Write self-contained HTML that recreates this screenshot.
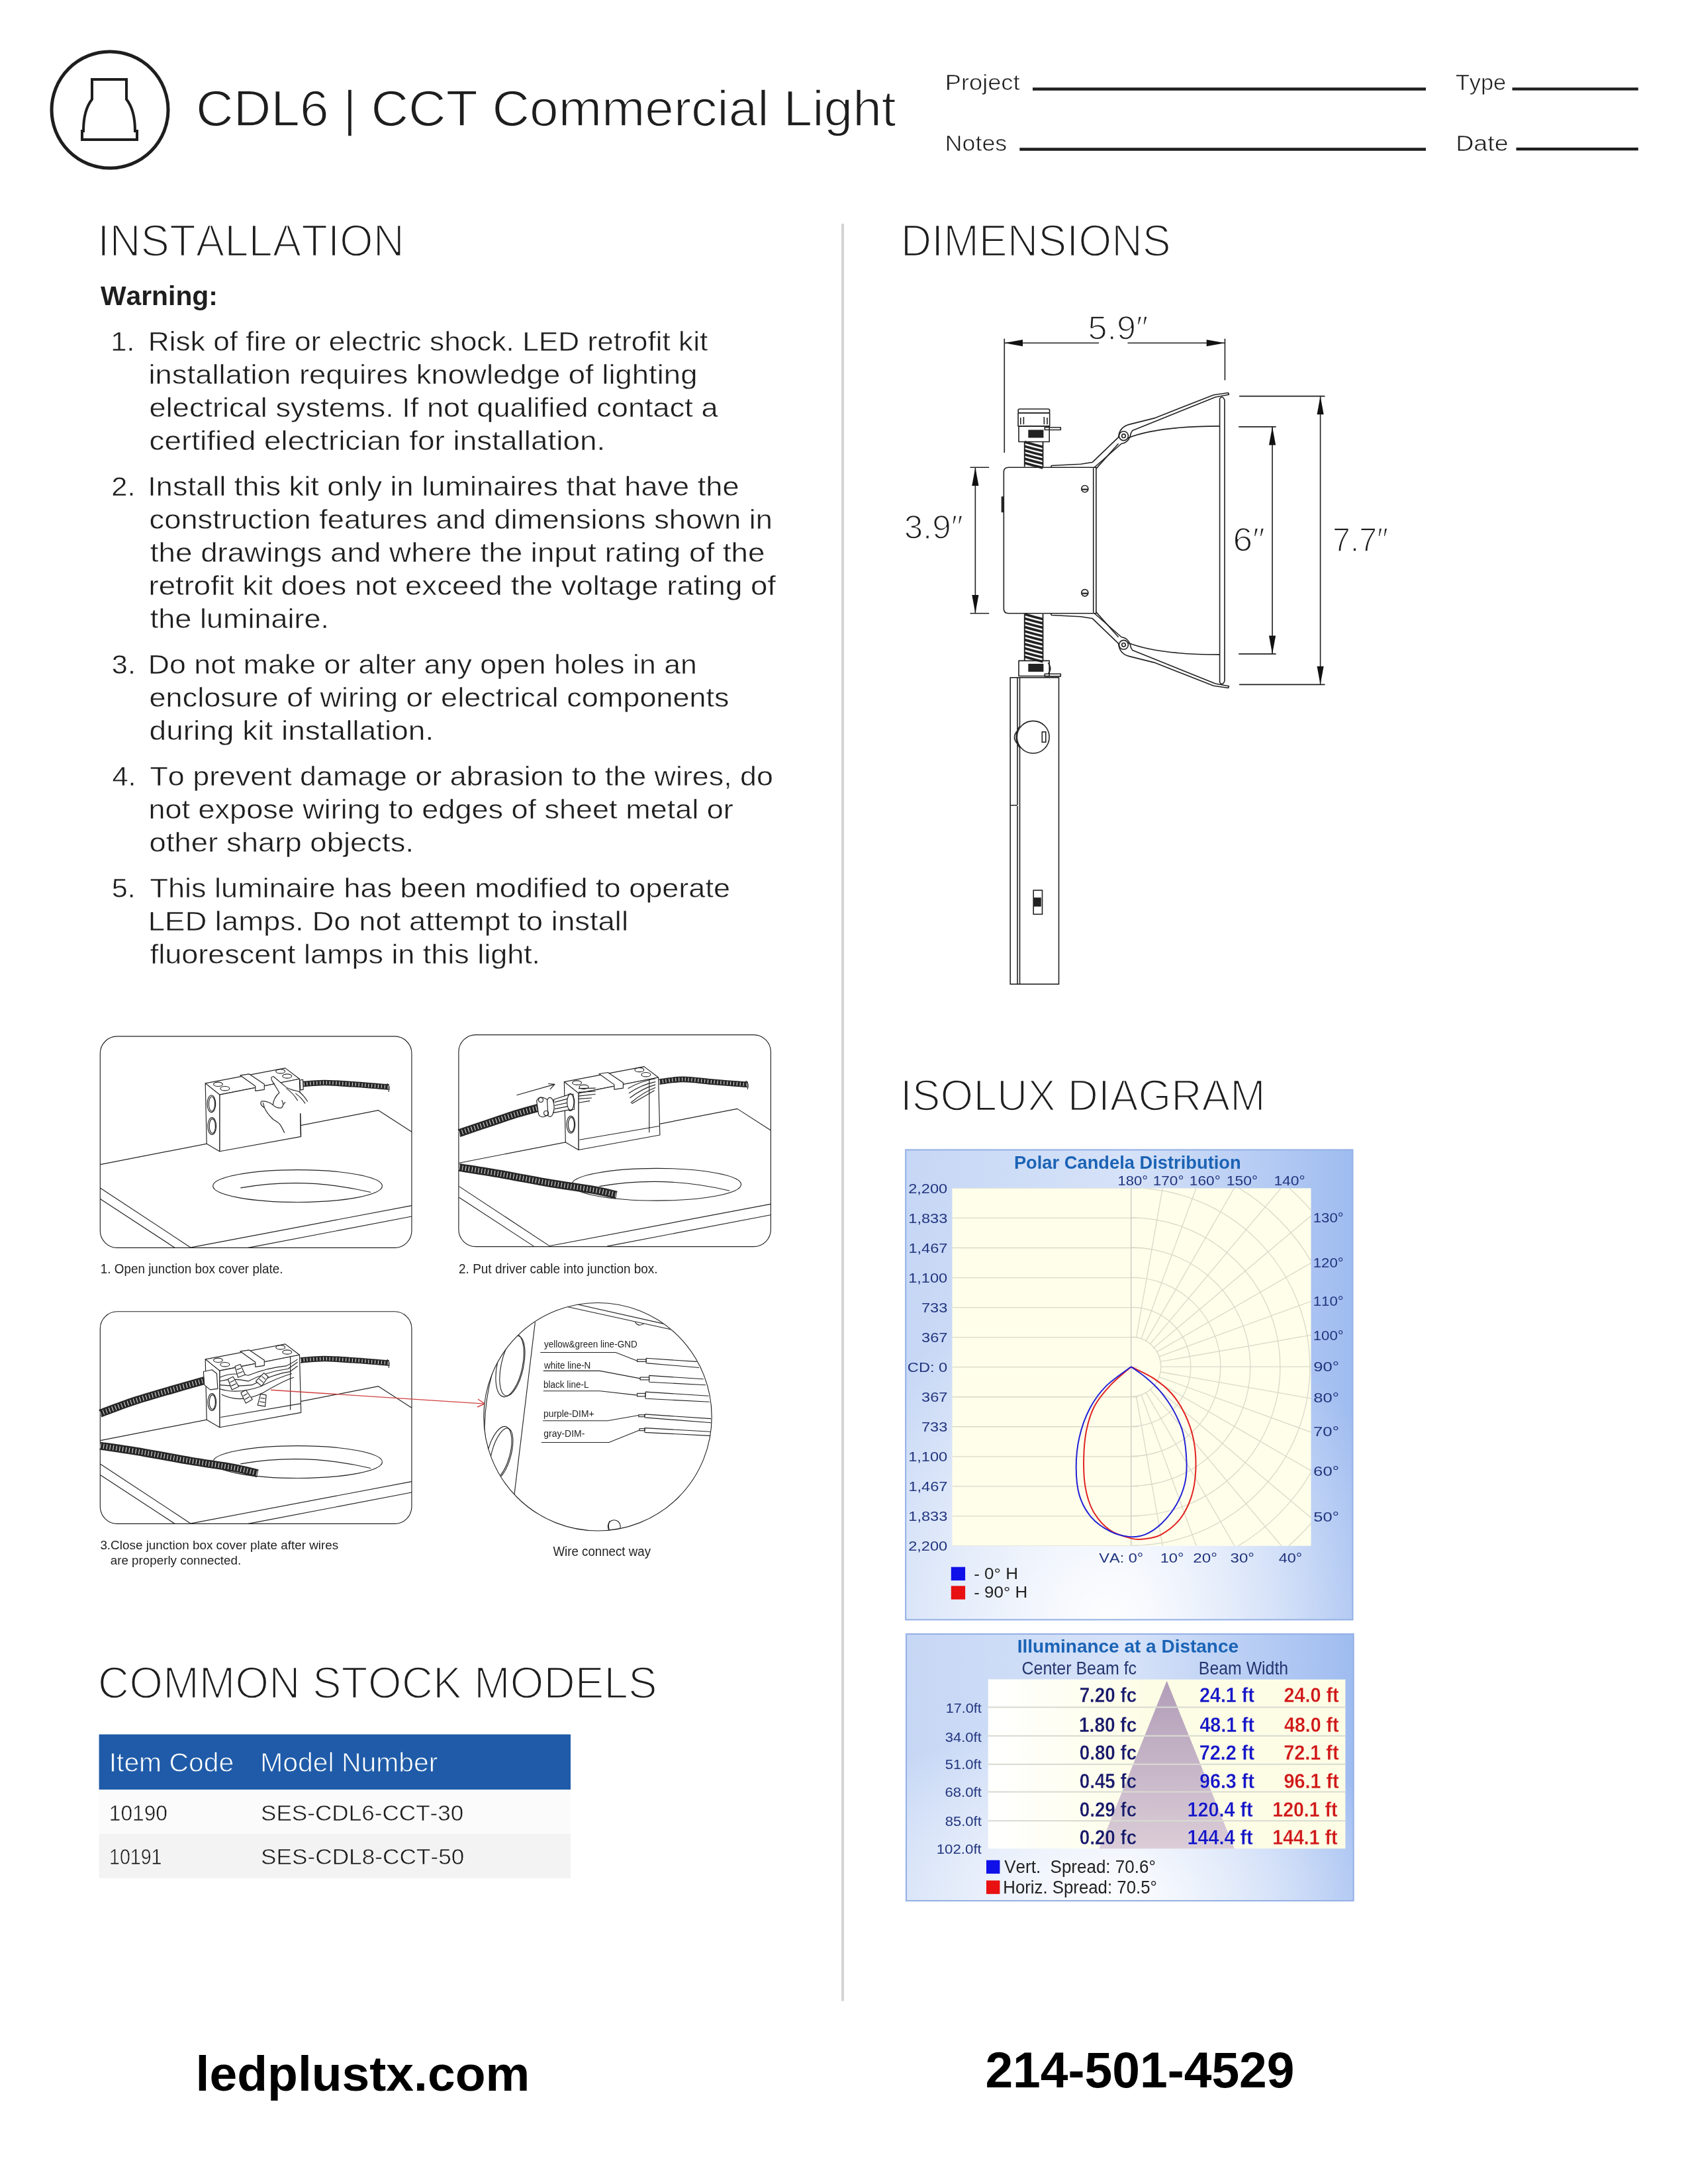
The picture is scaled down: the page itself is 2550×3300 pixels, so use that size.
<!DOCTYPE html><html><head><meta charset="utf-8"><style>html,body{margin:0;padding:0;background:#fff;width:2550px;height:3300px;overflow:hidden}svg{display:block;will-change:transform}text{font-family:"Liberation Sans",sans-serif;font-kerning:none;white-space:pre}</style></head><body>
<svg width="2550" height="3300" viewBox="0 0 2550 3300">
<rect width="2550" height="3300" fill="#fff"/>
<circle cx="166" cy="166" r="88" fill="none" stroke="#1e1e1e" stroke-width="5"/>
<path d="M139,120 L191,120 L191,150 C199,160 204,175 204,198 L207,198 L207,211 L124,211 L124,198 L126,198 C126,175 131,160 139,150 Z" fill="none" stroke="#1e1e1e" stroke-width="4"/>
<text x="296.02" y="190.00" font-size="75.58" fill="#1e1e1e" stroke="#fff" stroke-width="1.60" textLength="1057.56" lengthAdjust="spacingAndGlyphs">CDL6 | CCT Commercial Light</text>
<text x="1427.73" y="135.60" font-size="32.70" fill="#1e1e1e" stroke="#fff" stroke-width="0.60" textLength="112.84" lengthAdjust="spacingAndGlyphs">Project</text>
<text x="1427.76" y="228.00" font-size="33.43" fill="#1e1e1e" stroke="#fff" stroke-width="0.60" textLength="93.53" lengthAdjust="spacingAndGlyphs">Notes</text>
<text x="2198.93" y="136.00" font-size="33.43" fill="#1e1e1e" stroke="#fff" stroke-width="0.60" textLength="76.19" lengthAdjust="spacingAndGlyphs">Type</text>
<text x="2199.22" y="228.00" font-size="33.43" fill="#1e1e1e" stroke="#fff" stroke-width="0.60" textLength="79.35" lengthAdjust="spacingAndGlyphs">Date</text>
<rect x="1560" y="132.3" width="594" height="4.5" fill="#1e1e1e"/>
<rect x="1540.3" y="223.3" width="613.7" height="4.5" fill="#1e1e1e"/>
<rect x="2284.5" y="132.3" width="190.3" height="4.3" fill="#1e1e1e"/>
<rect x="2290.5" y="223" width="184.3" height="4.4" fill="#1e1e1e"/>
<rect x="1271" y="338" width="4" height="2685.5" fill="#d3d3d3"/>
<text x="147.28" y="387.20" font-size="68.32" fill="#1e1e1e" stroke="#fff" stroke-width="2.40" textLength="463.63" lengthAdjust="spacingAndGlyphs">INSTALLATION</text>
<text x="1360.71" y="386.60" font-size="68.32" fill="#1e1e1e" stroke="#fff" stroke-width="2.40" textLength="408.14" lengthAdjust="spacingAndGlyphs">DIMENSIONS</text>
<text x="1360.09" y="1678.30" font-size="67.59" fill="#1e1e1e" stroke="#fff" stroke-width="2.40" textLength="551.46" lengthAdjust="spacingAndGlyphs">ISOLUX DIAGRAM</text>
<text x="147.87" y="2566.20" font-size="68.32" fill="#1e1e1e" stroke="#fff" stroke-width="2.40" textLength="844.84" lengthAdjust="spacingAndGlyphs">COMMON STOCK MODELS</text>
<text x="151.96" y="460.80" font-size="41.28" font-weight="bold" fill="#1e1e1e" textLength="176.97" lengthAdjust="spacingAndGlyphs">Warning:</text>
<text x="167.20" y="530.00" font-size="41.28" fill="#1e1e1e" stroke="#fff" stroke-width="0.50" textLength="36.15" lengthAdjust="spacingAndGlyphs">1.</text>
<text x="223.87" y="530.00" font-size="41.28" fill="#1e1e1e" stroke="#fff" stroke-width="0.50" textLength="845.45" lengthAdjust="spacingAndGlyphs">Risk of fire or electric shock. LED retrofit kit</text>
<text x="224.46" y="580.00" font-size="41.28" fill="#1e1e1e" stroke="#fff" stroke-width="0.50" textLength="828.97" lengthAdjust="spacingAndGlyphs">installation requires knowledge of lighting</text>
<text x="225.58" y="630.00" font-size="41.28" fill="#1e1e1e" stroke="#fff" stroke-width="0.50" textLength="859.02" lengthAdjust="spacingAndGlyphs">electrical systems. If not qualified contact a</text>
<text x="225.55" y="680.00" font-size="41.28" fill="#1e1e1e" stroke="#fff" stroke-width="0.50" textLength="688.64" lengthAdjust="spacingAndGlyphs">certified electrician for installation.</text>
<text x="168.32" y="749.00" font-size="41.28" fill="#1e1e1e" stroke="#fff" stroke-width="0.50" textLength="36.15" lengthAdjust="spacingAndGlyphs">2.</text>
<text x="223.33" y="749.00" font-size="41.28" fill="#1e1e1e" stroke="#fff" stroke-width="0.50" textLength="893.17" lengthAdjust="spacingAndGlyphs">Install this kit only in luminaires that have the</text>
<text x="225.58" y="799.00" font-size="41.28" fill="#1e1e1e" stroke="#fff" stroke-width="0.50" textLength="941.36" lengthAdjust="spacingAndGlyphs">construction features and dimensions shown in</text>
<text x="226.81" y="849.00" font-size="41.28" fill="#1e1e1e" stroke="#fff" stroke-width="0.50" textLength="928.73" lengthAdjust="spacingAndGlyphs">the drawings and where the input rating of the</text>
<text x="224.47" y="899.00" font-size="41.28" fill="#1e1e1e" stroke="#fff" stroke-width="0.50" textLength="947.46" lengthAdjust="spacingAndGlyphs">retrofit kit does not exceed the voltage rating of</text>
<text x="226.82" y="949.00" font-size="41.28" fill="#1e1e1e" stroke="#fff" stroke-width="0.50" textLength="270.29" lengthAdjust="spacingAndGlyphs">the luminaire.</text>
<text x="168.85" y="1018.00" font-size="41.28" fill="#1e1e1e" stroke="#fff" stroke-width="0.50" textLength="36.15" lengthAdjust="spacingAndGlyphs">3.</text>
<text x="223.84" y="1018.00" font-size="41.28" fill="#1e1e1e" stroke="#fff" stroke-width="0.50" textLength="829.06" lengthAdjust="spacingAndGlyphs">Do not make or alter any open holes in an</text>
<text x="225.59" y="1068.00" font-size="41.28" fill="#1e1e1e" stroke="#fff" stroke-width="0.50" textLength="876.04" lengthAdjust="spacingAndGlyphs">enclosure of wiring or electrical components</text>
<text x="225.57" y="1118.00" font-size="41.28" fill="#1e1e1e" stroke="#fff" stroke-width="0.50" textLength="429.63" lengthAdjust="spacingAndGlyphs">during kit installation.</text>
<text x="169.51" y="1187.00" font-size="41.28" fill="#1e1e1e" stroke="#fff" stroke-width="0.50" textLength="36.15" lengthAdjust="spacingAndGlyphs">4.</text>
<text x="226.49" y="1187.00" font-size="41.28" fill="#1e1e1e" stroke="#fff" stroke-width="0.50" textLength="941.39" lengthAdjust="spacingAndGlyphs">To prevent damage or abrasion to the wires, do</text>
<text x="224.51" y="1237.00" font-size="41.28" fill="#1e1e1e" stroke="#fff" stroke-width="0.50" textLength="883.24" lengthAdjust="spacingAndGlyphs">not expose wiring to edges of sheet metal or</text>
<text x="225.59" y="1287.00" font-size="41.28" fill="#1e1e1e" stroke="#fff" stroke-width="0.50" textLength="399.56" lengthAdjust="spacingAndGlyphs">other sharp objects.</text>
<text x="168.76" y="1356.00" font-size="41.28" fill="#1e1e1e" stroke="#fff" stroke-width="0.50" textLength="36.15" lengthAdjust="spacingAndGlyphs">5.</text>
<text x="226.49" y="1356.00" font-size="41.28" fill="#1e1e1e" stroke="#fff" stroke-width="0.50" textLength="876.51" lengthAdjust="spacingAndGlyphs">This luminaire has been modified to operate</text>
<text x="223.77" y="1406.00" font-size="41.28" fill="#1e1e1e" stroke="#fff" stroke-width="0.50" textLength="725.27" lengthAdjust="spacingAndGlyphs">LED lamps. Do not attempt to install</text>
<text x="226.86" y="1456.00" font-size="41.28" fill="#1e1e1e" stroke="#fff" stroke-width="0.50" textLength="589.24" lengthAdjust="spacingAndGlyphs">fluorescent lamps in this light.</text>
<rect x="149.6" y="2620.6" width="712.4" height="83.4" fill="#1f5ba8"/>
<rect x="149.6" y="2704" width="712.4" height="67" fill="#fbfbfb"/>
<rect x="149.6" y="2771" width="712.4" height="67" fill="#f3f3f3"/>
<text x="164.73" y="2676.70" font-size="41.43" fill="#fff" textLength="188.38" lengthAdjust="spacingAndGlyphs" stroke="#1f5ba8" stroke-width="0.9">Item Code</text>
<text x="393.14" y="2676.70" font-size="41.43" fill="#fff" textLength="268.34" lengthAdjust="spacingAndGlyphs" stroke="#1f5ba8" stroke-width="0.9">Model Number</text>
<text x="164.78" y="2751.20" font-size="33.72" fill="#1e1e1e" stroke="#fff" stroke-width="0.50" textLength="88.26" lengthAdjust="spacingAndGlyphs">10190</text>
<text x="394.01" y="2751.20" font-size="33.72" fill="#1e1e1e" stroke="#fff" stroke-width="0.50" textLength="306.37" lengthAdjust="spacingAndGlyphs">SES-CDL6-CCT-30</text>
<text x="165.03" y="2817.00" font-size="33.72" fill="#1e1e1e" stroke="#fff" stroke-width="0.50" textLength="79.37" lengthAdjust="spacingAndGlyphs">10191</text>
<text x="394.00" y="2817.00" font-size="33.72" fill="#1e1e1e" stroke="#fff" stroke-width="0.50" textLength="307.38" lengthAdjust="spacingAndGlyphs">SES-CDL8-CCT-50</text>
<text x="295.56" y="3159.30" font-size="74.10" font-weight="bold" fill="#000" textLength="504.80" lengthAdjust="spacingAndGlyphs">ledplustx.com</text>
<text x="1488.40" y="3153.50" font-size="76.60" font-weight="bold" fill="#000" textLength="467.18" lengthAdjust="spacingAndGlyphs">214-501-4529</text>
<defs><linearGradient id="pbg" x1="0" y1="0" x2="1" y2="0"><stop offset="0" stop-color="#c6d7f5"/><stop offset="0.5" stop-color="#d6e2f8"/><stop offset="1" stop-color="#9fbcf0"/></linearGradient><radialGradient id="pwh" cx="0.45" cy="1" r="0.7"><stop offset="0" stop-color="#fff" stop-opacity="0.95"/><stop offset="0.6" stop-color="#fff" stop-opacity="0.4"/><stop offset="1" stop-color="#fff" stop-opacity="0"/></radialGradient><clipPath id="pclip"><rect x="192" y="160" width="1326" height="1322"/></clipPath><linearGradient id="tri" x1="0" y1="0" x2="0" y2="1"><stop offset="0" stop-color="#ad98b6"/><stop offset="1" stop-color="#d9cad6"/></linearGradient><linearGradient id="twh" x1="0" y1="0" x2="1" y2="0"><stop offset="0" stop-color="#fff" stop-opacity="1"/><stop offset="0.45" stop-color="#fff" stop-opacity="0"/></linearGradient></defs>
<g transform="translate(1360,1730) scale(0.408764)">
<rect x="20" y="18" width="1652" height="1737" fill="url(#pbg)"/>
<rect x="20" y="18" width="1652" height="1737" fill="url(#pwh)"/>
<rect x="20" y="18" width="1652" height="1737" fill="none" stroke="#94b0e6" stroke-width="5"/>
<rect x="192" y="160" width="1326" height="1322" fill="#fffeea"/>
<g clip-path="url(#pclip)" stroke="#d9d9cc" stroke-width="3.2" fill="none"><line x1="192" y1="160.0" x2="880" y2="160.0"/><line x1="192" y1="270.2" x2="880" y2="270.2"/><line x1="192" y1="380.4" x2="880" y2="380.4"/><line x1="192" y1="490.6" x2="880" y2="490.6"/><line x1="192" y1="600.8" x2="880" y2="600.8"/><line x1="192" y1="711.0" x2="880" y2="711.0"/><line x1="192" y1="821.2" x2="880" y2="821.2"/><line x1="192" y1="931.4" x2="880" y2="931.4"/><line x1="192" y1="1041.6" x2="880" y2="1041.6"/><line x1="192" y1="1151.8" x2="880" y2="1151.8"/><line x1="192" y1="1262.0" x2="880" y2="1262.0"/><line x1="192" y1="1372.2" x2="880" y2="1372.2"/><line x1="192" y1="1482.4" x2="880" y2="1482.4"/><line x1="853" y1="160" x2="853" y2="1482" stroke="#c8c8c0"/><path d="M853.0,709.8 A110.2,110.2 0 0 1 853.0,930.2"/><path d="M853.0,599.6 A220.4,220.4 0 0 1 853.0,1040.4"/><path d="M853.0,489.4 A330.6,330.6 0 0 1 853.0,1150.6"/><path d="M853.0,379.2 A440.8,440.8 0 0 1 853.0,1260.8"/><path d="M853.0,269.0 A551.0,551.0 0 0 1 853.0,1371.0"/><path d="M853.0,158.8 A661.2,661.2 0 0 1 853.0,1481.2"/><path d="M853.0,48.6 A771.4,771.4 0 0 1 853.0,1591.4"/><path d="M853.0,-61.6 A881.6,881.6 0 0 1 853.0,1701.6"/><path d="M853.0,-171.8 A991.8,991.8 0 0 1 853.0,1811.8"/><line x1="872.1" y1="928.5" x2="1200.3" y2="2789.6"/><line x1="890.7" y1="923.6" x2="1537.0" y2="2699.4"/><line x1="908.1" y1="915.4" x2="1853.0" y2="2552.1"/><line x1="923.8" y1="904.4" x2="2138.6" y2="2352.1"/><line x1="937.4" y1="890.8" x2="2385.1" y2="2105.6"/><line x1="948.4" y1="875.1" x2="2585.1" y2="1820.0"/><line x1="956.6" y1="857.7" x2="2732.4" y2="1504.0"/><line x1="961.5" y1="839.1" x2="2822.6" y2="1167.3"/><line x1="963.2" y1="820.0" x2="2853.0" y2="820.0"/><line x1="961.5" y1="800.9" x2="2822.6" y2="472.7"/><line x1="956.6" y1="782.3" x2="2732.4" y2="136.0"/><line x1="948.4" y1="764.9" x2="2585.1" y2="-180.0"/><line x1="937.4" y1="749.2" x2="2385.1" y2="-465.6"/><line x1="923.8" y1="735.6" x2="2138.6" y2="-712.1"/><line x1="908.1" y1="724.6" x2="1853.0" y2="-912.1"/><line x1="890.7" y1="716.4" x2="1537.0" y2="-1059.4"/><line x1="872.1" y1="711.5" x2="1200.3" y2="-1149.6"/></g>
<path d="M853.0,820.0 C840.0,831.7 797.5,865.8 775.0,890.0 C752.5,914.2 732.5,937.5 718.0,965.0 C703.5,992.5 694.7,1022.5 688.0,1055.0 C681.3,1087.5 678.7,1125.0 678.0,1160.0 C677.3,1195.0 678.3,1233.0 684.0,1265.0 C689.7,1297.0 697.3,1325.8 712.0,1352.0 C726.7,1378.2 748.7,1405.0 772.0,1422.0 C795.3,1439.0 829.8,1448.3 852.0,1454.0 C874.2,1459.7 886.2,1458.3 905.0,1456.0 C923.8,1453.7 943.8,1451.8 965.0,1440.0 C986.2,1428.2 1013.5,1408.3 1032.0,1385.0 C1050.5,1361.7 1066.0,1330.8 1076.0,1300.0 C1086.0,1269.2 1090.7,1235.0 1092.0,1200.0 C1093.3,1165.0 1090.7,1124.2 1084.0,1090.0 C1077.3,1055.8 1065.7,1023.7 1052.0,995.0 C1038.3,966.3 1021.5,940.2 1002.0,918.0 C982.5,895.8 959.8,878.3 935.0,862.0 C910.2,845.7 866.7,827.0 853.0,820.0" fill="none" stroke="#e02020" stroke-width="4.8" stroke-linejoin="miter"/>
<path d="M853.0,820.0 C837.5,832.0 785.5,866.2 760.0,892.0 C734.5,917.8 716.3,943.7 700.0,975.0 C683.7,1006.3 670.3,1044.2 662.0,1080.0 C653.7,1115.8 650.0,1154.2 650.0,1190.0 C650.0,1225.8 652.8,1264.2 662.0,1295.0 C671.2,1325.8 686.2,1352.8 705.0,1375.0 C723.8,1397.2 751.7,1415.8 775.0,1428.0 C798.3,1440.2 823.3,1446.0 845.0,1448.0 C866.7,1450.0 885.0,1448.0 905.0,1440.0 C925.0,1432.0 945.8,1418.3 965.0,1400.0 C984.2,1381.7 1005.5,1355.0 1020.0,1330.0 C1034.5,1305.0 1045.7,1276.7 1052.0,1250.0 C1058.3,1223.3 1059.2,1200.8 1058.0,1170.0 C1056.8,1139.2 1053.0,1096.3 1045.0,1065.0 C1037.0,1033.7 1023.8,1007.5 1010.0,982.0 C996.2,956.5 979.0,932.3 962.0,912.0 C945.0,891.7 926.2,875.3 908.0,860.0 C889.8,844.7 862.2,826.7 853.0,820.0" fill="none" stroke="#2020d8" stroke-width="4.8" stroke-linejoin="miter"/>
</g>
<text x="1531.90" y="1765.97" font-size="27.00" font-weight="bold" fill="#1b63b5" textLength="342.79" lengthAdjust="spacingAndGlyphs">Polar Candela Distribution</text>
<text x="1372.16" y="1802.60" font-size="21.08" fill="#22357e" textLength="59.07" lengthAdjust="spacingAndGlyphs">2,200</text>
<text x="1372.28" y="1847.65" font-size="21.08" fill="#22357e" textLength="59.07" lengthAdjust="spacingAndGlyphs">1,833</text>
<text x="1372.43" y="1892.69" font-size="21.08" fill="#22357e" textLength="59.07" lengthAdjust="spacingAndGlyphs">1,467</text>
<text x="1372.16" y="1937.74" font-size="21.08" fill="#22357e" textLength="59.07" lengthAdjust="spacingAndGlyphs">1,100</text>
<text x="1391.96" y="1982.79" font-size="21.08" fill="#22357e" textLength="39.38" lengthAdjust="spacingAndGlyphs">733</text>
<text x="1392.11" y="2027.83" font-size="21.08" fill="#22357e" textLength="39.38" lengthAdjust="spacingAndGlyphs">367</text>
<text x="1370.89" y="2072.88" font-size="21.08" fill="#22357e" textLength="60.34" lengthAdjust="spacingAndGlyphs">CD: 0</text>
<text x="1392.11" y="2117.92" font-size="21.08" fill="#22357e" textLength="39.38" lengthAdjust="spacingAndGlyphs">367</text>
<text x="1391.96" y="2162.97" font-size="21.08" fill="#22357e" textLength="39.38" lengthAdjust="spacingAndGlyphs">733</text>
<text x="1372.16" y="2208.01" font-size="21.08" fill="#22357e" textLength="59.07" lengthAdjust="spacingAndGlyphs">1,100</text>
<text x="1372.43" y="2253.06" font-size="21.08" fill="#22357e" textLength="59.07" lengthAdjust="spacingAndGlyphs">1,467</text>
<text x="1372.28" y="2298.11" font-size="21.08" fill="#22357e" textLength="59.07" lengthAdjust="spacingAndGlyphs">1,833</text>
<text x="1372.16" y="2343.15" font-size="21.08" fill="#22357e" textLength="59.07" lengthAdjust="spacingAndGlyphs">2,200</text>
<text x="1688.61" y="1790.50" font-size="21.08" fill="#22357e" textLength="45.51" lengthAdjust="spacingAndGlyphs">180°</text>
<text x="1741.70" y="1790.50" font-size="21.08" fill="#22357e" textLength="46.82" lengthAdjust="spacingAndGlyphs">170°</text>
<text x="1796.88" y="1790.50" font-size="21.08" fill="#22357e" textLength="46.82" lengthAdjust="spacingAndGlyphs">160°</text>
<text x="1852.86" y="1790.50" font-size="21.08" fill="#22357e" textLength="47.26" lengthAdjust="spacingAndGlyphs">150°</text>
<text x="1924.40" y="1790.50" font-size="21.08" fill="#22357e" textLength="47.26" lengthAdjust="spacingAndGlyphs">140°</text>
<text x="1983.72" y="1846.75" font-size="21.08" fill="#22357e" textLength="45.95" lengthAdjust="spacingAndGlyphs">130°</text>
<text x="1983.72" y="1915.01" font-size="21.08" fill="#22357e" textLength="45.95" lengthAdjust="spacingAndGlyphs">120°</text>
<text x="1983.72" y="1973.47" font-size="21.08" fill="#22357e" textLength="45.95" lengthAdjust="spacingAndGlyphs">110°</text>
<text x="1983.72" y="2025.38" font-size="21.08" fill="#22357e" textLength="45.95" lengthAdjust="spacingAndGlyphs">100°</text>
<text x="1984.21" y="2072.39" font-size="21.08" fill="#22357e" textLength="38.71" lengthAdjust="spacingAndGlyphs">90°</text>
<text x="1984.30" y="2119.39" font-size="21.08" fill="#22357e" textLength="38.61" lengthAdjust="spacingAndGlyphs">80°</text>
<text x="1984.09" y="2170.49" font-size="21.08" fill="#22357e" textLength="38.83" lengthAdjust="spacingAndGlyphs">70°</text>
<text x="1984.11" y="2229.76" font-size="21.08" fill="#22357e" textLength="38.82" lengthAdjust="spacingAndGlyphs">60°</text>
<text x="1984.39" y="2299.25" font-size="21.08" fill="#22357e" textLength="38.52" lengthAdjust="spacingAndGlyphs">50°</text>
<text x="1660.34" y="2361.38" font-size="21.08" fill="#22357e" textLength="66.92" lengthAdjust="spacingAndGlyphs">VA: 0°</text>
<text x="1752.65" y="2361.38" font-size="21.08" fill="#22357e" textLength="35.94" lengthAdjust="spacingAndGlyphs">10°</text>
<text x="1802.29" y="2361.38" font-size="21.08" fill="#22357e" textLength="36.60" lengthAdjust="spacingAndGlyphs">20°</text>
<text x="1858.60" y="2361.38" font-size="21.08" fill="#22357e" textLength="36.28" lengthAdjust="spacingAndGlyphs">30°</text>
<text x="1931.73" y="2361.38" font-size="21.08" fill="#22357e" textLength="35.47" lengthAdjust="spacingAndGlyphs">40°</text>
<rect x="1436.8" y="2367.7" width="21.3" height="20.4" fill="#1010e8"/>
<rect x="1436.8" y="2396.3" width="21.3" height="20.4" fill="#e81010"/>
<text x="1471.26" y="2385.66" font-size="23.98" fill="#222" textLength="66.63" lengthAdjust="spacingAndGlyphs">- 0° H</text>
<text x="1471.26" y="2414.27" font-size="23.98" fill="#222" textLength="80.93" lengthAdjust="spacingAndGlyphs">- 90° H</text>
<g transform="translate(1360,2460) scale(0.408764)">
<rect x="22" y="22" width="1653" height="986" fill="url(#pbg)"/>
<rect x="22" y="22" width="1653" height="986" fill="url(#pwh)"/>
<rect x="22" y="22" width="1653" height="986" fill="none" stroke="#94b0e6" stroke-width="5"/>
<rect x="325" y="190" width="1320" height="625" fill="#fdfde6"/>
<rect x="325" y="190" width="1320" height="625" fill="url(#twh)"/>
<path d="M985,195 L1235,815 L735,815 Z" fill="url(#tri)" opacity="0.95"/>
<rect x="325" y="290" width="1320" height="5" fill="#d9dbd2"/>
<rect x="325" y="396" width="1320" height="5" fill="#d9dbd2"/>
<rect x="325" y="501" width="1320" height="5" fill="#d9dbd2"/>
<rect x="325" y="603" width="1320" height="5" fill="#d9dbd2"/>
<rect x="325" y="710" width="1320" height="5" fill="#d9dbd2"/>
</g>
<text x="1536.76" y="2496.79" font-size="27.00" font-weight="bold" fill="#1b63b5" textLength="334.34" lengthAdjust="spacingAndGlyphs">Illuminance at a Distance</text>
<text x="1543.49" y="2530.31" font-size="27.91" fill="#24356f" textLength="173.61" lengthAdjust="spacingAndGlyphs">Center Beam fc</text>
<text x="1810.87" y="2530.31" font-size="27.91" fill="#24356f" textLength="135.27" lengthAdjust="spacingAndGlyphs">Beam Width</text>
<text x="1630.63" y="2572.41" font-size="31.25" font-weight="bold" fill="#17186b" textLength="86.62" lengthAdjust="spacingAndGlyphs" stroke="#fdfde8" stroke-width="0.3">7.20 fc</text>
<text x="1811.91" y="2572.41" font-size="31.25" font-weight="bold" fill="#1515c8" textLength="83.10" lengthAdjust="spacingAndGlyphs" stroke="#fdfde8" stroke-width="0.3">24.1 ft</text>
<text x="1939.45" y="2572.41" font-size="31.25" font-weight="bold" fill="#d01818" textLength="83.10" lengthAdjust="spacingAndGlyphs" stroke="#fdfde8" stroke-width="0.3">24.0 ft</text>
<text x="1630.06" y="2617.37" font-size="31.25" font-weight="bold" fill="#17186b" textLength="87.20" lengthAdjust="spacingAndGlyphs" stroke="#fdfde8" stroke-width="0.3">1.80 fc</text>
<text x="1812.48" y="2617.37" font-size="31.25" font-weight="bold" fill="#1515c8" textLength="82.53" lengthAdjust="spacingAndGlyphs" stroke="#fdfde8" stroke-width="0.3">48.1 ft</text>
<text x="1940.01" y="2617.37" font-size="31.25" font-weight="bold" fill="#d01818" textLength="82.53" lengthAdjust="spacingAndGlyphs" stroke="#fdfde8" stroke-width="0.3">48.0 ft</text>
<text x="1630.73" y="2659.48" font-size="31.25" font-weight="bold" fill="#17186b" textLength="86.53" lengthAdjust="spacingAndGlyphs" stroke="#fdfde8" stroke-width="0.3">0.80 fc</text>
<text x="1811.67" y="2659.48" font-size="31.25" font-weight="bold" fill="#1515c8" textLength="83.34" lengthAdjust="spacingAndGlyphs" stroke="#fdfde8" stroke-width="0.3">72.2 ft</text>
<text x="1939.21" y="2659.48" font-size="31.25" font-weight="bold" fill="#d01818" textLength="83.34" lengthAdjust="spacingAndGlyphs" stroke="#fdfde8" stroke-width="0.3">72.1 ft</text>
<text x="1630.73" y="2701.99" font-size="31.25" font-weight="bold" fill="#17186b" textLength="86.53" lengthAdjust="spacingAndGlyphs" stroke="#fdfde8" stroke-width="0.3">0.45 fc</text>
<text x="1811.91" y="2701.99" font-size="31.25" font-weight="bold" fill="#1515c8" textLength="83.10" lengthAdjust="spacingAndGlyphs" stroke="#fdfde8" stroke-width="0.3">96.3 ft</text>
<text x="1939.45" y="2701.99" font-size="31.25" font-weight="bold" fill="#d01818" textLength="83.10" lengthAdjust="spacingAndGlyphs" stroke="#fdfde8" stroke-width="0.3">96.1 ft</text>
<text x="1630.73" y="2745.32" font-size="31.25" font-weight="bold" fill="#17186b" textLength="86.53" lengthAdjust="spacingAndGlyphs" stroke="#fdfde8" stroke-width="0.3">0.29 fc</text>
<text x="1793.52" y="2745.32" font-size="31.25" font-weight="bold" fill="#1515c8" textLength="99.04" lengthAdjust="spacingAndGlyphs" stroke="#fdfde8" stroke-width="0.3">120.4 ft</text>
<text x="1922.30" y="2745.32" font-size="31.25" font-weight="bold" fill="#d01818" textLength="98.20" lengthAdjust="spacingAndGlyphs" stroke="#fdfde8" stroke-width="0.3">120.1 ft</text>
<text x="1630.73" y="2787.01" font-size="31.25" font-weight="bold" fill="#17186b" textLength="86.53" lengthAdjust="spacingAndGlyphs" stroke="#fdfde8" stroke-width="0.3">0.20 fc</text>
<text x="1793.52" y="2787.01" font-size="31.25" font-weight="bold" fill="#1515c8" textLength="99.04" lengthAdjust="spacingAndGlyphs" stroke="#fdfde8" stroke-width="0.3">144.4 ft</text>
<text x="1922.30" y="2787.01" font-size="31.25" font-weight="bold" fill="#d01818" textLength="98.20" lengthAdjust="spacingAndGlyphs" stroke="#fdfde8" stroke-width="0.3">144.1 ft</text>
<text x="1428.66" y="2587.94" font-size="21.08" fill="#22357e" textLength="54.13" lengthAdjust="spacingAndGlyphs">17.0ft</text>
<text x="1427.84" y="2631.68" font-size="21.08" fill="#22357e" textLength="54.95" lengthAdjust="spacingAndGlyphs">34.0ft</text>
<text x="1427.79" y="2673.37" font-size="21.08" fill="#22357e" textLength="55.00" lengthAdjust="spacingAndGlyphs">51.0ft</text>
<text x="1427.55" y="2715.48" font-size="21.08" fill="#22357e" textLength="55.24" lengthAdjust="spacingAndGlyphs">68.0ft</text>
<text x="1427.72" y="2759.22" font-size="21.08" fill="#22357e" textLength="55.07" lengthAdjust="spacingAndGlyphs">85.0ft</text>
<text x="1414.71" y="2800.50" font-size="21.08" fill="#22357e" textLength="68.08" lengthAdjust="spacingAndGlyphs">102.0ft</text>
<rect x="1490.0" y="2810.7" width="20.4" height="20.4" fill="#1010e8"/>
<rect x="1490.0" y="2841.4" width="20.4" height="20.4" fill="#e81010"/>
<text x="1517.26" y="2829.93" font-size="26.74" fill="#222" textLength="228.54" lengthAdjust="spacingAndGlyphs">Vert.  Spread: 70.6°</text>
<text x="1515.26" y="2860.59" font-size="26.74" fill="#222" textLength="232.57" lengthAdjust="spacingAndGlyphs">Horiz. Spread: 70.5°</text>
<g transform="translate(1350,460) scale(0.462086)" fill="none" stroke="#222" stroke-width="3.5" stroke-linejoin="round">
<path d="M362,126 H675 M765,126 H1083 M362,112 V485 M1083,112 V248"/>
<path d="M362.0,126.0 L422.0,115.0 L422.0,137.0 Z" fill="#111" stroke="none"/>
<path d="M1083.0,126.0 L1023.0,137.0 L1023.0,115.0 Z" fill="#111" stroke="none"/>
<path d="M267,533 V1010 M250,533 H312 M250,1010 H312"/>
<path d="M267.0,533.0 L278.0,593.0 L256.0,593.0 Z" fill="#111" stroke="none"/>
<path d="M267.0,1010.0 L256.0,950.0 L278.0,950.0 Z" fill="#111" stroke="none"/>
<path d="M1238,400 V1143 M1128,400 H1250 M1128,1143 H1250"/>
<path d="M1238.0,400.0 L1249.0,460.0 L1227.0,460.0 Z" fill="#111" stroke="none"/>
<path d="M1238.0,1143.0 L1227.0,1083.0 L1249.0,1083.0 Z" fill="#111" stroke="none"/>
<path d="M1395,300 V1243 M1130,300 H1410 M1130,1243 H1410"/>
<path d="M1395.0,300.0 L1406.0,360.0 L1384.0,360.0 Z" fill="#111" stroke="none"/>
<path d="M1395.0,1243.0 L1384.0,1183.0 L1406.0,1183.0 Z" fill="#111" stroke="none"/>
<path d="M1066,308 V1236 M1082,312 V1232 M1066,308 Q1074,296 1082,312 M1066,1236 Q1074,1248 1082,1232"/>
<path d="M513,536 L516,527 L612,522 L650,516 L735,434 Q738,400 772,392 L852,372 L1046,296 L1094,289 L1096,295 L1052,303 L781,412 L776,420 Q770,452 745,455 L655,534 L612,536 Z"/><circle cx="752" cy="430" r="15"/><circle cx="752" cy="430" r="6"/><path d="M765,437 C837,408 940,398 1066,398"/><path d="M662,537 L735,455"/>
<g transform="translate(0,1543) scale(1,-1)"><path d="M513,536 L516,527 L612,522 L650,516 L735,434 Q738,400 772,392 L852,372 L1046,296 L1094,289 L1096,295 L1052,303 L781,412 L776,420 Q770,452 745,455 L655,534 L612,536 Z"/><circle cx="752" cy="430" r="15"/><circle cx="752" cy="430" r="6"/><path d="M765,437 C837,408 940,398 1066,398"/><path d="M662,537 L735,455"/></g>
<path d="M375,533 H662 V1010 H375 Q360,1010 360,995 V548 Q360,533 375,533 Z" fill="#fff"/>
<path d="M653,535 V1008"/>
<rect x="352" y="628" width="8" height="52" fill="#222" stroke="none"/>
<circle cx="625" cy="603" r="11"/><path d="M615,605 H635" stroke-width="5"/>
<circle cx="625" cy="943" r="11"/><path d="M615,945 H635" stroke-width="5"/>
<rect x="407" y="342" width="103" height="13" rx="5"/>
<rect x="407" y="355" width="103" height="43"/>
<path d="M415,370 V392 M425,368 V392 M492,368 V392 M502,370 V392"/>
<rect x="409" y="398" width="100" height="51"/>
<rect x="494" y="402" width="52" height="8"/>
<rect x="440" y="410" width="50" height="26" fill="#222" stroke="none"/>
<path d="M428.0,449.0 L428.0,531.0 M488.0,449.0 L488.0,531.0" stroke="#222" stroke-width="4" fill="none"/><path d="M428.0,449.8 Q458.0,458.8 488.0,465.8 M428.0,463.5 Q458.0,472.5 488.0,479.5 M428.0,477.2 Q458.0,486.2 488.0,493.2 M428.0,490.8 Q458.0,499.8 488.0,506.8 M428.0,504.5 Q458.0,513.5 488.0,520.5 M428.0,518.2 Q458.0,527.2 488.0,534.2 " stroke="#222" stroke-width="8" fill="none"/>
<path d="M428.0,1012.0 L428.0,1165.0 M488.0,1012.0 L488.0,1165.0" stroke="#222" stroke-width="4" fill="none"/><path d="M428.0,1013.0 Q458.0,1022.0 488.0,1029.0 M428.0,1026.9 Q458.0,1035.9 488.0,1042.9 M428.0,1040.8 Q458.0,1049.8 488.0,1056.8 M428.0,1054.7 Q458.0,1063.7 488.0,1070.7 M428.0,1068.6 Q458.0,1077.6 488.0,1084.6 M428.0,1082.5 Q458.0,1091.5 488.0,1098.5 M428.0,1096.4 Q458.0,1105.4 488.0,1112.4 M428.0,1110.3 Q458.0,1119.3 488.0,1126.3 M428.0,1124.2 Q458.0,1133.2 488.0,1140.2 M428.0,1138.1 Q458.0,1147.1 488.0,1154.1 M428.0,1152.0 Q458.0,1161.0 488.0,1168.0 " stroke="#222" stroke-width="8" fill="none"/>
<rect x="409" y="1165" width="100" height="50"/>
<rect x="494" y="1208" width="52" height="8"/>
<rect x="440" y="1175" width="50" height="26" fill="#222" stroke="none"/>
<path d="M505,1172 Q520,1190 505,1208"/>
</g>
<g fill="none" stroke="#222" stroke-width="1.6">
<rect x="1526.2" y="1023.8" width="73.3" height="463.2"/>
<path d="M1537,1023.8 V1104 Q1528,1114 1537,1124 V1216 M1537,1218 V1487 M1540.5,1023.8 V1097 Q1530,1114 1540.5,1130 V1487 M1526.2,1216.7 H1537"/>
<circle cx="1560.7" cy="1113.8" r="24.4" fill="#fff"/>
<rect x="1574.3" y="1105.9" width="5.5" height="15.5"/>
<rect x="1561.2" y="1345.2" width="13.3" height="36.2"/>
<rect x="1562" y="1357" width="10" height="12" fill="#222"/>
</g>
<rect x="1660" y="505" width="42" height="20" fill="#fff"/>
<text x="1643.61" y="513.10" font-size="50.15" fill="#1e1e1e" stroke="#fff" stroke-width="1.60" textLength="90.85" lengthAdjust="spacingAndGlyphs">5.9″</text>
<text x="1365.65" y="813.50" font-size="50.15" fill="#1e1e1e" stroke="#fff" stroke-width="1.60" textLength="89.30" lengthAdjust="spacingAndGlyphs">3.9″</text>
<text x="1862.49" y="832.90" font-size="50.15" fill="#1e1e1e" stroke="#fff" stroke-width="1.60" textLength="48.49" lengthAdjust="spacingAndGlyphs">6″</text>
<text x="2012.92" y="832.90" font-size="50.15" fill="#1e1e1e" stroke="#fff" stroke-width="1.60" textLength="84.27" lengthAdjust="spacingAndGlyphs">7.7″</text>
<g transform="translate(145,1555) scale(0.287323)" fill="none" stroke="#222" stroke-width="4" stroke-linejoin="round">
<rect x="22" y="38" width="1638" height="1112" rx="90"/>
<path d="M22,712 L1485,427 L1660,540"/>
<path d="M22,835 L500,1150 M22,893 L415,1150 M500,1148 L1660,928 M800,1150 L1660,985"/>
<ellipse cx="1060" cy="825" rx="445" ry="85"/>
<path d="M760,835 Q1100,775 1445,858"/>
<path d="M575,285 L995,205 L1070,262 L650,345 Z" fill="#fff"/>
<path d="M650,345 L1070,262 L1078,565 L650,643 Z" fill="#fff"/>
<path d="M575,285 L650,345 L650,643 L582,603 Z" fill="#fff"/>
<ellipse cx="607" cy="393" rx="22" ry="45"/><ellipse cx="609" cy="393" rx="16" ry="38"/>
<ellipse cx="610" cy="510" rx="22" ry="45"/><ellipse cx="612" cy="510" rx="16" ry="38"/>
<ellipse cx="642" cy="290" rx="24" ry="11"/>
<ellipse cx="678" cy="312" rx="24" ry="11"/>
<ellipse cx="970" cy="222" rx="24" ry="11"/>
<ellipse cx="1005" cy="247" rx="24" ry="11"/>
<path d="M758,243 L805,236 L885,290 L885,318 L838,325 L838,300 Z" fill="#fff"/>
<path d="M1075.0,290.0 C1095.8,288.7 1154.2,282.0 1200.0,282.0 C1245.8,282.0 1293.3,286.2 1350.0,290.0 C1406.7,293.8 1508.3,302.5 1540.0,305.0" stroke="#262626" stroke-width="30" fill="none" stroke-linecap="butt"/><path d="M1075.0,290.0 C1095.8,288.7 1154.2,282.0 1200.0,282.0 C1245.8,282.0 1293.3,286.2 1350.0,290.0 C1406.7,293.8 1508.3,302.5 1540.0,305.0" stroke="#d8d8d8" stroke-width="18.6" fill="none" stroke-dasharray="4 13"/>
<path d="M1072,268 L1088,266 L1090,318 L1075,320 Z" fill="#fff"/>
<path d="M1530,285 Q1550,300 1538,330"/>
<path d="M921,251 L933,249 L999,305 L1030,319 L1066,328 L1113,381 L1080,443 L1074,443 L1074,560 L991,546 L966,497 L933,476 L904,449 L886,414 L880,410 L861,396 L871,379 L904,381 L930,398 L933,367 L964,334 Z" fill="#fff" stroke="none"/>
<path d="M964,334 L925,270 Q915,252 933,249 L999,305 Q1010,312 1030,319 L1066,328 Q1090,345 1113,381"/>
<path d="M1001,311 Q1040,340 1061,377 M1049,338 Q1080,360 1100,391"/>
<path d="M964,334 Q935,360 930,398 Q950,418 975,414 Q992,400 977,373 M995,383 L987,396"/>
<path d="M930,398 Q905,378 871,379 Q858,392 880,410 L886,414 M878,387 L886,414"/>
<path d="M886,414 Q900,445 933,476 Q962,492 970,505 Q985,530 991,546 M1074,443 L1076,560"/>
</g>
<g transform="translate(688,1555) scale(0.287323)" fill="none" stroke="#222" stroke-width="4" stroke-linejoin="round">
<rect x="17" y="30" width="1641" height="1114" rx="90"/>
<g transform="translate(-3,-8)">
<path d="M22,712 L1485,427 L1660,540"/>
<path d="M22,835 L500,1150 M22,893 L415,1150 M500,1148 L1660,928 M800,1150 L1660,985"/>
<ellipse cx="1060" cy="825" rx="445" ry="85"/>
<path d="M760,835 Q1100,775 1445,858"/>
<path d="M575,285 L995,205 L1070,262 L650,345 Z" fill="#fff"/>
<path d="M650,345 L1070,262 L1078,565 L650,643 Z" fill="#fff"/>
<path d="M575,285 L650,345 L650,643 L582,603 Z" fill="#fff"/>
<ellipse cx="607" cy="393" rx="22" ry="45"/><ellipse cx="609" cy="393" rx="16" ry="38"/>
<ellipse cx="610" cy="510" rx="22" ry="45"/><ellipse cx="612" cy="510" rx="16" ry="38"/>
<ellipse cx="642" cy="290" rx="24" ry="11"/>
<ellipse cx="678" cy="312" rx="24" ry="11"/>
<ellipse cx="970" cy="222" rx="24" ry="11"/>
<ellipse cx="1005" cy="247" rx="24" ry="11"/>
<path d="M758,243 L805,236 L885,290 L885,318 L838,325 L838,300 Z" fill="#fff"/>
<path d="M655,590 L1075,518 M1022,270 V552"/>
<path d="M1075.0,285.0 C1095.8,282.8 1154.2,272.0 1200.0,272.0 C1245.8,272.0 1293.3,280.3 1350.0,285.0 C1406.7,289.7 1508.3,297.5 1540.0,300.0" stroke="#262626" stroke-width="30" fill="none" stroke-linecap="butt"/><path d="M1075.0,285.0 C1095.8,282.8 1154.2,272.0 1200.0,272.0 C1245.8,272.0 1293.3,280.3 1350.0,285.0 C1406.7,289.7 1508.3,297.5 1540.0,300.0" stroke="#d8d8d8" stroke-width="18.6" fill="none" stroke-dasharray="4 13"/>
<path d="M1530,280 Q1550,295 1538,325"/>
<path d="M325,355 L525,298 M490,295 L525,298 L500,325"/>
<path d="M22.0,555.0 C51.7,545.0 148.7,512.2 200.0,495.0 C251.3,477.8 289.2,464.5 330.0,452.0 C370.8,439.5 425.8,425.3 445.0,420.0" stroke="#262626" stroke-width="42" fill="none" stroke-linecap="butt"/><path d="M22.0,555.0 C51.7,545.0 148.7,512.2 200.0,495.0 C251.3,477.8 289.2,464.5 330.0,452.0 C370.8,439.5 425.8,425.3 445.0,420.0" stroke="#d8d8d8" stroke-width="26.0" fill="none" stroke-dasharray="4 13"/>
<path d="M520,378 L600,352 L622,350 L628,430 L600,432 L520,448 Z" fill="#fff"/>
<path d="M525,392 L600,372 M525,410 L605,392 M525,428 L605,412"/>
<ellipse cx="500" cy="418" rx="22" ry="50" fill="#fff"/><ellipse cx="608" cy="392" rx="18" ry="42" fill="#fff"/>
<path d="M430,385 Q440,362 465,368 L485,378 L490,460 L465,470 Q445,470 440,455 Z" fill="#fff"/><circle cx="452" cy="380" r="12"/><circle cx="480" cy="450" r="12"/>
<path d="M650,320 L740,318 M650,340 L740,335 M650,360 L740,350 M650,375 L720,370 M650,395 L710,385"/>
<path d="M1055,268 Q980,280 910,320 M1055,285 Q980,300 915,345 M1055,300 Q985,320 920,370 M1055,315 Q990,340 925,395 M1050,330 Q1000,360 930,400"/>
<path d="M22.0,735.0 C60.0,741.2 170.3,758.2 250.0,772.0 C329.7,785.8 421.7,804.7 500.0,818.0 C578.3,831.3 661.7,841.7 720.0,852.0 C778.3,862.3 828.3,875.3 850.0,880.0" stroke="#262626" stroke-width="42" fill="none" stroke-linecap="butt"/><path d="M22.0,735.0 C60.0,741.2 170.3,758.2 250.0,772.0 C329.7,785.8 421.7,804.7 500.0,818.0 C578.3,831.3 661.7,841.7 720.0,852.0 C778.3,862.3 828.3,875.3 850.0,880.0" stroke="#d8d8d8" stroke-width="26.0" fill="none" stroke-dasharray="4 13"/>
</g></g>
<g transform="translate(145,1972) scale(0.287323)" fill="none" stroke="#222" stroke-width="4" stroke-linejoin="round">
<rect x="22" y="34" width="1638" height="1116" rx="90"/>
<path d="M22,712 L1485,427 L1660,540"/>
<path d="M22,835 L500,1150 M22,893 L415,1150 M500,1148 L1660,928 M800,1150 L1660,985"/>
<ellipse cx="1060" cy="825" rx="445" ry="85"/>
<path d="M760,835 Q1100,775 1445,858"/>
<path d="M575,285 L995,205 L1070,262 L650,345 Z" fill="#fff"/>
<path d="M650,345 L1070,262 L1078,565 L650,643 Z" fill="#fff"/>
<path d="M575,285 L650,345 L650,643 L582,603 Z" fill="#fff"/>
<ellipse cx="607" cy="393" rx="22" ry="45"/><ellipse cx="609" cy="393" rx="16" ry="38"/>
<ellipse cx="610" cy="510" rx="22" ry="45"/><ellipse cx="612" cy="510" rx="16" ry="38"/>
<ellipse cx="642" cy="290" rx="24" ry="11"/>
<ellipse cx="678" cy="312" rx="24" ry="11"/>
<ellipse cx="970" cy="222" rx="24" ry="11"/>
<ellipse cx="1005" cy="247" rx="24" ry="11"/>
<path d="M758,243 L805,236 L885,290 L885,318 L838,325 L838,300 Z" fill="#fff"/>
<path d="M655,590 L1075,518 M1022,270 V552"/>
<path d="M1075.0,290.0 C1095.8,288.7 1154.2,282.0 1200.0,282.0 C1245.8,282.0 1293.3,286.2 1350.0,290.0 C1406.7,293.8 1508.3,302.5 1540.0,305.0" stroke="#262626" stroke-width="30" fill="none" stroke-linecap="butt"/><path d="M1075.0,290.0 C1095.8,288.7 1154.2,282.0 1200.0,282.0 C1245.8,282.0 1293.3,286.2 1350.0,290.0 C1406.7,293.8 1508.3,302.5 1540.0,305.0" stroke="#d8d8d8" stroke-width="18.6" fill="none" stroke-dasharray="4 13"/>
<path d="M1530,285 Q1550,300 1538,330"/>
<path d="M22.0,570.0 C51.7,559.2 137.0,525.8 200.0,505.0 C263.0,484.2 337.5,463.3 400.0,445.0 C462.5,426.7 545.8,403.3 575.0,395.0" stroke="#262626" stroke-width="42" fill="none" stroke-linecap="butt"/><path d="M22.0,570.0 C51.7,559.2 137.0,525.8 200.0,505.0 C263.0,484.2 337.5,463.3 400.0,445.0 C462.5,426.7 545.8,403.3 575.0,395.0" stroke="#d8d8d8" stroke-width="26.0" fill="none" stroke-dasharray="4 13"/>
<path d="M565,350 L610,340 L635,360 L640,440 L600,445 L570,420 Z" fill="#fff"/>
<path d="M650,380 Q720,350 800,370 Q900,330 1000,320 Q1040,300 1060,285 M650,400 Q720,380 800,400 Q900,350 1010,335 L1060,300 M650,420 Q740,430 820,420 Q940,360 1020,350 L1060,320 M650,440 Q740,470 860,430 Q960,380 1030,360 M660,470 Q760,520 880,460 Q980,400 1040,380"/>
<g transform="translate(755,345) rotate(-20)"><path d="M-15,-30 L15,-30 L20,30 L-20,30 Z" fill="#fff"/><path d="M-12,-10 H12 M-14,10 H14"/></g>
<g transform="translate(720,410) rotate(-25)"><path d="M-15,-30 L15,-30 L20,30 L-20,30 Z" fill="#fff"/><path d="M-12,-10 H12 M-14,10 H14"/></g>
<g transform="translate(790,480) rotate(-30)"><path d="M-15,-30 L15,-30 L20,30 L-20,30 Z" fill="#fff"/><path d="M-12,-10 H12 M-14,10 H14"/></g>
<g transform="translate(875,390) rotate(40)"><path d="M-15,-30 L15,-30 L20,30 L-20,30 Z" fill="#fff"/><path d="M-12,-10 H12 M-14,10 H14"/></g>
<g transform="translate(875,500) rotate(10)"><path d="M-15,-30 L15,-30 L20,30 L-20,30 Z" fill="#fff"/><path d="M-12,-10 H12 M-14,10 H14"/></g>
<path d="M22.0,740.0 C60.0,745.8 170.3,761.7 250.0,775.0 C329.7,788.3 421.7,806.7 500.0,820.0 C578.3,833.3 661.7,844.2 720.0,855.0 C778.3,865.8 828.3,880.0 850.0,885.0" stroke="#262626" stroke-width="42" fill="none" stroke-linecap="butt"/><path d="M22.0,740.0 C60.0,745.8 170.3,761.7 250.0,775.0 C329.7,788.3 421.7,806.7 500.0,820.0 C578.3,833.3 661.7,844.2 720.0,855.0 C778.3,865.8 828.3,880.0 850.0,885.0" stroke="#d8d8d8" stroke-width="26.0" fill="none" stroke-dasharray="4 13"/>
</g>
<path d="M409,2100.2 L732.2,2121.1" stroke="#d04040" stroke-width="1.4" fill="none"/>
<path d="M722,2114 L732.2,2121.1 L721,2126" stroke="#d04040" stroke-width="1.4" fill="none"/>
<g transform="translate(715,1955) scale(0.225124)" fill="none" stroke="#222" stroke-width="5">
<defs><clipPath id="wc"><circle cx="835" cy="825" r="765"/></clipPath></defs>
<circle cx="835" cy="825" r="765" fill="#fff"/>
<g clip-path="url(#wc)">
<path d="M600,80 L1330,240 M650,60 L1340,215"/>
<path d="M1085,190 Q1110,225 1145,198"/>
<path d="M415,190 L275,1350"/>
<g transform="rotate(12 245 480)"><ellipse cx="245" cy="480" rx="85" ry="215"/><ellipse cx="262" cy="480" rx="75" ry="205"/></g>
<g transform="rotate(15 190 1075)"><ellipse cx="170" cy="1075" rx="75" ry="185"/><ellipse cx="188" cy="1075" rx="65" ry="178"/></g>
<path d="M130,520 Q80,700 75,900 Q80,990 100,1040"/>
<circle cx="945" cy="1560" r="42"/><path d="M915,1590 Q900,1560 915,1525"/>
</g>
<path d="M450,393 L955,393 L1100,450"/>
<rect x="1100" y="440" width="60" height="15"/>
<path d="M1160,432 L1500,455 M1160,465 L1515,495 M1160,432 V465"/>
<path d="M470,517 L850,517 L1120,568"/>
<rect x="1120" y="560" width="60" height="17"/>
<path d="M1180,548 L1545,572 M1180,592 L1560,612 M1180,548 V592"/>
<path d="M470,652 L850,652 L1100,680"/>
<rect x="1100" y="668" width="55" height="20"/>
<path d="M1155,658 L1580,685 M1155,703 L1585,725 M1155,658 V703"/>
<path d="M467,852 L900,852 L1110,815"/>
<rect x="1110" y="812" width="40" height="13"/>
<path d="M1150,808 L1595,838 M1150,830 L1595,865 M1150,808 V830"/>
<path d="M457,997 L910,997 L1115,915"/>
<rect x="1115" y="905" width="35" height="13"/>
<path d="M1150,900 L1590,925 M1150,930 L1590,952 M1150,900 V930"/>
</g>
<text x="821.90" y="2035.59" font-size="14.83" fill="#222" textLength="140.93" lengthAdjust="spacingAndGlyphs">yellow&amp;green line-GND</text>
<text x="821.95" y="2067.56" font-size="14.83" fill="#222" textLength="70.42" lengthAdjust="spacingAndGlyphs">white line-N</text>
<text x="821.06" y="2096.83" font-size="14.83" fill="#222" textLength="68.41" lengthAdjust="spacingAndGlyphs">black line-L</text>
<text x="821.04" y="2140.73" font-size="14.83" fill="#222" textLength="76.54" lengthAdjust="spacingAndGlyphs">purple-DIM+</text>
<text x="821.35" y="2171.12" font-size="14.83" fill="#222" textLength="61.99" lengthAdjust="spacingAndGlyphs">gray-DIM-</text>
<text x="151.86" y="1923.90" font-size="19.62" fill="#222" textLength="275.66" lengthAdjust="spacingAndGlyphs">1. Open junction box cover plate.</text>
<text x="693.05" y="1923.90" font-size="19.62" fill="#222" textLength="300.59" lengthAdjust="spacingAndGlyphs">2. Put driver cable into junction box.</text>
<text x="151.38" y="2340.90" font-size="19.19" fill="#222" textLength="359.90" lengthAdjust="spacingAndGlyphs">3.Close junction box cover plate after wires</text>
<text x="166.70" y="2363.80" font-size="19.19" fill="#222" textLength="197.52" lengthAdjust="spacingAndGlyphs">are properly connected.</text>
<text x="835.42" y="2350.50" font-size="19.91" fill="#222" textLength="147.62" lengthAdjust="spacingAndGlyphs">Wire connect way</text>
</svg></body></html>
